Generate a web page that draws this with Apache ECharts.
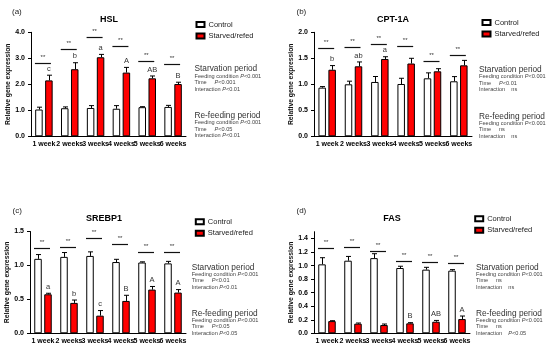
<!DOCTYPE html>
<html>
<head>
<meta charset="utf-8">
<script src="https://cdn.jsdelivr.net/npm/echarts@6/dist/echarts.min.js"></script>
<style>html,body{margin:0;padding:0;background:#fff}#c{width:550px;height:353px}</style>
</head>
<body>
<div id="c"></div>
<script>
// ---------- data ----------
const categories = ['1 week', '2 weeks', '3 weeks', '4 weeks', '5 weeks', '6 weeks'];
const seriesNames = ['Control', 'Starved/refed'];

// (a) HSL
const hslTitle = 'HSL';
const hslControl = [1.03, 1.08, 1.09, 1.06, 1.12, 1.13];
const hslControlSem = [0.09, 0.05, 0.09, 0.12, 0.02, 0.06];
const hslRefed = [2.15, 2.58, 3.04, 2.45, 2.23, 2.01];
const hslRefedSem = [0.20, 0.25, 0.11, 0.20, 0.09, 0.07];
const hslSigLevel = [2.82, 3.35, 3.82, 3.49, 2.90, 2.77];
const hslLetters = ['c', 'b', 'a', 'A', 'AB', 'B'];
const hslTicks = [0, 1, 2, 3, 4];

// (b) CPT-1A
const cptTitle = 'CPT-1A';
const cptControl = [0.936, 1.0, 1.045, 1.006, 1.115, 1.058];
const cptControlSem = [0.02, 0.06, 0.105, 0.11, 0.105, 0.09];
const cptRefed = [1.28, 1.346, 1.487, 1.40, 1.25, 1.365];
const cptRefedSem = [0.08, 0.084, 0.043, 0.10, 0.05, 0.095];
const cptSigLevel = [1.705, 1.71, 1.77, 1.74, 1.455, 1.56];
const cptLetters = ['b', 'ab', 'a', '', '', ''];
const cptTicks = [0, 0.5, 1.0, 1.5, 2.0];

// (c) SREBP1
const srebpTitle = 'SREBP1';
const srebpControl = [1.097, 1.126, 1.14, 1.05, 1.043, 1.03];
const srebpControlSem = [0.063, 0.064, 0.06, 0.04, 0.01, 0.03];
const srebpRefed = [0.575, 0.448, 0.26, 0.477, 0.644, 0.60];
const srebpRefedSem = [0.015, 0.042, 0.075, 0.083, 0.046, 0.044];
const srebpSigLevel = [1.264, 1.274, 1.40, 1.31, 1.20, 1.20];
const srebpLetters = ['a', 'b', 'c', 'B', 'A', 'A'];
const srebpTicks = [0, 0.5, 1.0, 1.5];

// (d) FAS
const fasTitle = 'FAS';
const fasControl = [1.018, 1.072, 1.11, 0.964, 0.94, 0.925];
const fasControlSem = [0.098, 0.063, 0.065, 0.026, 0.034, 0.015];
const fasRefed = [0.18, 0.142, 0.122, 0.147, 0.171, 0.21];
const fasRefedSem = [0.006, 0.01, 0.015, 0.01, 0.019, 0.045];
const fasSigLevel = [1.258, 1.27, 1.214, 1.067, 1.047, 1.04];
const fasLetters = ['', '', '', 'B', 'AB', 'A'];
const fasTicks = [0, 0.2, 0.4, 0.6, 0.8, 1.0, 1.2, 1.4];

// statistics text
const hslStarv = [['Feeding condition ', 'P<0.001'], ['Time     ', 'P<0.001'], ['Interaction ', 'P<0.01']];
const hslRefeed = [['Feeding condition ', 'P<0.001'], ['Time     ', 'P<0.05'], ['Interaction ', 'P<0.01']];
const cptStarv = [['Feeding condition ', 'P<0.001'], ['Time     ', 'P<0.01'], ['Interaction    ', 'ns']];
const cptRefeed = [['Feeding condition ', 'P<0.001'], ['Time     ', 'ns'], ['Interaction    ', 'ns']];
const srebpStarv = [['Feeding condition ', 'P<0.001'], ['Time     ', 'P<0.01'], ['Interaction ', 'P<0.01']];
const srebpRefeed = [['Feeding condition ', 'P<0.001'], ['Time     ', 'P<0.05'], ['Interaction ', 'P<0.05']];
const fasStarv = [['Feeding condition ', 'P<0.001'], ['Time     ', 'ns'], ['Interaction    ', 'ns']];
const fasRefeed = [['Feeding condition ', 'P<0.001'], ['Time     ', 'ns'], ['Interaction    ', 'P<0.05']];

// ---------- layout / style ----------
const F = 'Liberation Sans, Arial, Helvetica, sans-serif';
const panels = [
  {tag: '(a)', title: hslTitle, c: hslControl, cs: hslControlSem, r: hslRefed, rs: hslRefedSem, sig: hslSigLevel, letters: hslLetters, ticks: hslTicks, max: 4, starv: hslStarv, refeed: hslRefeed,
   grid: {left: 31, top: 32.3, width: 155, height: 104}, tagPos: [12, 12], titlePos: [109, 15.5], legendPos: [195.5, 20.5], textPos: [194.5, 69, 115.7]},
  {tag: '(b)', title: cptTitle, c: cptControl, cs: cptControlSem, r: cptRefed, rs: cptRefedSem, sig: cptSigLevel, letters: cptLetters, ticks: cptTicks, max: 2, starv: cptStarv, refeed: cptRefeed,
   grid: {left: 314, top: 32.3, width: 158, height: 104}, tagPos: [296.5, 12], titlePos: [393, 15.5], legendPos: [481.5, 18.5], textPos: [479, 69.7, 116.3]},
  {tag: '(c)', title: srebpTitle, c: srebpControl, cs: srebpControlSem, r: srebpRefed, rs: srebpRefedSem, sig: srebpSigLevel, letters: srebpLetters, ticks: srebpTicks, max: 1.5, starv: srebpStarv, refeed: srebpRefeed,
   grid: {left: 30, top: 231.5, width: 156, height: 101.8}, tagPos: [12.5, 210.5], titlePos: [104, 214], legendPos: [194.8, 217.8], textPos: [191.7, 267.3, 313.3]},
  {tag: '(d)', title: fasTitle, c: fasControl, cs: fasControlSem, r: fasRefed, rs: fasRefedSem, sig: fasSigLevel, letters: fasLetters, ticks: fasTicks, max: 1.5, starv: fasStarv, refeed: fasRefeed,
   grid: {left: 314, top: 231.7, width: 156, height: 101.6}, tagPos: [296.5, 210.5], titlePos: [392, 214], legendPos: [474.2, 214.8], textPos: [476, 267.3, 313.3]}
];

const BAR_W = 7.5, HALF_SEP = 5;

const grids = [], xAxes = [], yAxes = [], series = [], legends = [], titles = [], graphics = [];

function statLines(lines, x, y0) {
  lines.forEach(function (ln, i) {
    const v = ln[1];
    let txt;
    if (v.charAt(0) === 'P') txt = '{n|' + ln[0] + '}{i|P}{n|' + v.slice(1) + '}';
    else txt = '{n|' + ln[0] + v + '}';
    graphics.push({type: 'text', x: x, y: y0 + 7 + i * 6.6, style: {text: txt, verticalAlign: 'middle', align: 'left',
      rich: {n: {fontSize: 5.6, fontFamily: F, fill: '#444'}, i: {fontSize: 5.6, fontFamily: F, fill: '#444', fontStyle: 'italic'}}}});
  });
}

panels.forEach(function (p, k) {
  grids.push(Object.assign({containLabel: false}, p.grid));
  xAxes.push({type: 'category', gridIndex: k, data: categories,
    axisLine: {lineStyle: {color: '#000', width: 1}}, axisTick: {show: false},
    axisLabel: {interval: 0, margin: 4, fontSize: 7, fontWeight: 'bold', fontFamily: F, color: '#000'}});
  yAxes.push({type: 'value', gridIndex: k, min: 0, max: p.max,
    name: 'Relative gene expression', nameLocation: 'middle', nameGap: 17,
    nameTextStyle: {fontSize: 6.8, fontWeight: 'bold', fontFamily: F, color: '#111'},
    splitLine: {show: false},
    axisLine: {show: true, lineStyle: {color: '#000', width: 1}},
    axisTick: {show: true, length: 3, lineStyle: {color: '#000'}, customValues: p.ticks},
    axisLabel: {margin: 6, fontSize: 7, fontWeight: 'bold', fontFamily: F, color: '#000', customValues: p.ticks,
      formatter: function (v) { return Number(v).toFixed(1); }}});

  series.push({name: seriesNames[0], type: 'bar', xAxisIndex: k, yAxisIndex: k, data: p.c, barWidth: BAR_W, barGap: '33%',
    itemStyle: {color: '#fff', borderColor: '#000', borderWidth: 1}, emphasis: {disabled: true}, animation: false});
  series.push({name: seriesNames[1], type: 'bar', xAxisIndex: k, yAxisIndex: k, data: p.r, barWidth: BAR_W, barGap: '33%',
    itemStyle: {color: '#ff0000', borderColor: '#000', borderWidth: 1}, emphasis: {disabled: true}, animation: false});

  // error bars
  const errData = [];
  p.c.forEach(function (v, i) { errData.push([i, v, v + p.cs[i], -1]); });
  p.r.forEach(function (v, i) { errData.push([i, v, v + p.rs[i], 1]); });
  series.push({type: 'custom', xAxisIndex: k, yAxisIndex: k, data: errData, silent: true, animation: false, z: 3,
    renderItem: function (params, api) {
      const a = api.coord([api.value(0), api.value(1)]);
      const b = api.coord([api.value(0), api.value(2)]);
      const x = Math.round(a[0] + api.value(3) * HALF_SEP) + 0.5;
      return {type: 'group', children: [
        {type: 'line', shape: {x1: x, y1: a[1], x2: x, y2: b[1]}, style: {stroke: '#000', lineWidth: 1}},
        {type: 'line', shape: {x1: x - 2.5, y1: b[1], x2: x + 2.5, y2: b[1]}, style: {stroke: '#000', lineWidth: 1}}
      ]};
    }});

  // significance bars with **
  series.push({type: 'custom', xAxisIndex: k, yAxisIndex: k, data: p.sig.map(function (v, i) { return [i, v]; }), silent: true, animation: false, z: 3,
    renderItem: function (params, api) {
      const c = api.coord([api.value(0), api.value(1)]);
      const y = Math.round(c[1]) + 0.5;
      return {type: 'group', children: [
        {type: 'line', shape: {x1: c[0] - 9, y1: y, x2: c[0] + 7, y2: y}, style: {stroke: '#111', lineWidth: 1.2}},
        {type: 'text', x: c[0] - 1, y: y - 6, style: {text: '**', align: 'center', verticalAlign: 'middle', fontSize: 6, fontFamily: F, fill: '#333'}}
      ]};
    }});

  // letters above starved/refed error bars
  const letters = p.letters;
  series.push({type: 'custom', xAxisIndex: k, yAxisIndex: k, data: p.r.map(function (v, i) { return [i, v + p.rs[i]]; }), silent: true, animation: false, z: 3,
    renderItem: function (params, api) {
      const c = api.coord([api.value(0), api.value(1)]);
      const t = letters[params.dataIndex];
      if (!t) return null;
      return {type: 'text', x: c[0] + HALF_SEP, y: c[1] - 6.5, style: {text: t, align: 'center', verticalAlign: 'middle', fontSize: 7.5, fontFamily: F, fill: '#333'}};
    }});

  legends.push({data: seriesNames, orient: 'vertical', left: p.legendPos[0], top: p.legendPos[1], icon: 'rect',
    itemWidth: 8, itemHeight: 5, itemGap: 3.5, padding: 0, selectedMode: false,
    textStyle: {fontSize: 7.5, fontFamily: F, color: '#222', padding: [0, 0, 0, -1]}});

  titles.push({text: p.title, left: p.titlePos[0], top: p.titlePos[1], textAlign: 'center', padding: 0,
    textStyle: {fontSize: 9, fontWeight: 'bold', fontFamily: F, color: '#000'}});

  graphics.push({type: 'text', x: p.tagPos[0], y: p.tagPos[1], style: {text: p.tag, verticalAlign: 'middle', fontSize: 8, fontFamily: F, fill: '#222'}});
  graphics.push({type: 'text', x: p.textPos[0], y: p.textPos[1], style: {text: 'Starvation period', verticalAlign: 'middle', fontSize: 8.3, fontFamily: F, fill: '#333'}});
  statLines(p.starv, p.textPos[0], p.textPos[1]);
  graphics.push({type: 'text', x: p.textPos[0], y: p.textPos[2], style: {text: 'Re-feeding period', verticalAlign: 'middle', fontSize: 8.3, fontFamily: F, fill: '#333'}});
  statLines(p.refeed, p.textPos[0], p.textPos[2]);
});

const chart = echarts.init(document.getElementById('c'), null, {renderer: 'canvas'});
chart.setOption({
  animation: false,
  backgroundColor: '#fff',
  title: titles,
  legend: legends,
  grid: grids,
  xAxis: xAxes,
  yAxis: yAxes,
  series: series,
  graphic: graphics
});
</script>
</body>
</html>
